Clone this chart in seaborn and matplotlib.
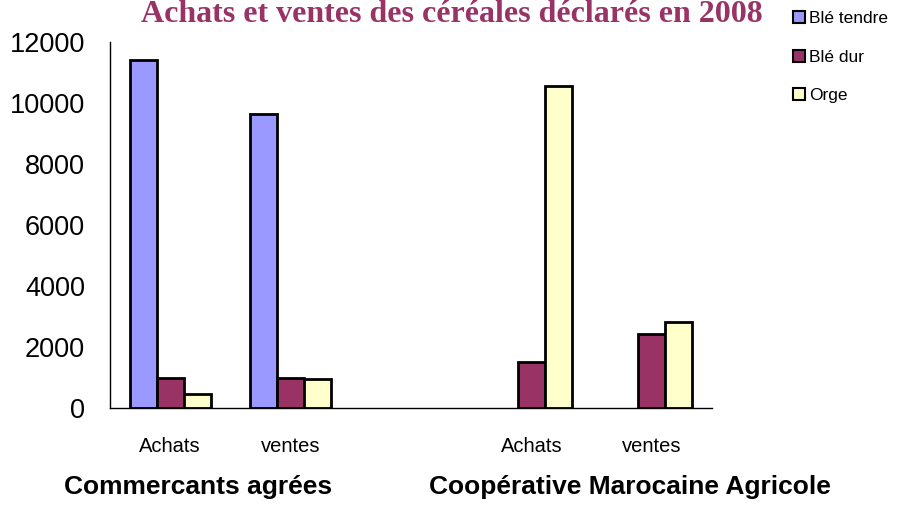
import matplotlib
matplotlib.use("Agg")
import matplotlib.pyplot as plt
import seaborn as sns
import pandas as pd
import numpy as np
from matplotlib.patches import Patch

# ---- data ----
categories = ["CA_Achats", "CA_ventes", "gap", "CMA_Achats", "CMA_ventes"]
tick_labels = ["Achats", "ventes", "", "Achats", "ventes"]
series = ["Blé tendre", "Blé dur", "Orge"]
ble_tendre = [11400, 9650, np.nan, np.nan, np.nan]
ble_dur = [1000, 1000, np.nan, 1520, 2440]
orge = [450, 950, np.nan, 10550, 2830]
group_labels = ["Commercants agrées", "Coopérative Marocaine Agricole"]
colors = ["#9999FF", "#993366", "#FFFFCC"]
title = "Achats et ventes des céréales déclarés en 2008"

rows = []
for name, vals in zip(series, [ble_tendre, ble_dur, orge]):
    for c, v in zip(categories, vals):
        if not np.isnan(v):
            rows.append({"cat": c, "serie": name, "val": v})
df = pd.DataFrame(rows)

sns.set_style("white")
plt.rcParams["font.family"] = ["Liberation Sans", "DejaVu Sans"]
plt.rcParams["text.color"] = "black"
plt.rcParams["xtick.color"] = "black"
plt.rcParams["ytick.color"] = "black"
plt.rcParams["axes.labelcolor"] = "black"

fig = plt.figure(figsize=(9, 5.08), dpi=100)
ax = fig.add_axes([110 / 900, 1 - 408 / 508, 602 / 900, 366 / 508])

sns.barplot(data=df, x="cat", y="val", hue="serie", order=categories,
            hue_order=series, palette=colors, width=0.675, dodge=True,
            edgecolor="black", linewidth=2, saturation=1, ax=ax, legend=False)

ax.set_xlim(-0.5, 4.5)
ax.set_ylim(0, 12000)
ax.set_yticks(np.arange(0, 12001, 2000))
ax.set_yticklabels([str(v) for v in range(0, 12001, 2000)], fontsize=19.5)
ax.set_xticks(range(len(categories)))
ax.set_xticklabels(tick_labels, fontsize=14.5)
ax.set_xticks(np.arange(-0.5, 4.6, 1), minor=True)
ax.tick_params(axis="x", which="major", length=0, pad=21)
ax.tick_params(axis="x", which="minor", length=4.5, width=1, color="black", direction="out")
ax.tick_params(axis="y", which="major", length=4.5, width=1, color="black", direction="out", pad=13.5)
ax.set_xlabel("")
ax.set_ylabel("")
for s in ["top", "right"]:
    ax.spines[s].set_visible(False)
for s in ["left", "bottom"]:
    ax.spines[s].set_color("black")
    ax.spines[s].set_linewidth(1)

fig.text(198 / 900, 1 - 487 / 508, group_labels[0], fontsize=19, fontweight="bold",
         ha="center", va="center", color="black")
fig.text(630 / 900, 1 - 487 / 508, group_labels[1], fontsize=19, fontweight="bold",
         ha="center", va="center", color="black")

fig.text(452 / 900, 1 - 22 / 508, title, fontsize=23, fontweight="bold",
         family=["Liberation Serif", "DejaVu Serif"], color="#993366",
         ha="center", va="baseline")

handles = [Patch(facecolor=c, edgecolor="black", linewidth=1.5) for c in colors]
fig.legend(handles, series, loc="upper left", bbox_to_anchor=(793 / 900, 1 - 11 / 508),
           frameon=False, fontsize=12.5, handlelength=0.7, handleheight=0.7,
           handletextpad=0.25, labelspacing=1.35, borderpad=0, borderaxespad=0)

fig.savefig("out.png", dpi=100)
